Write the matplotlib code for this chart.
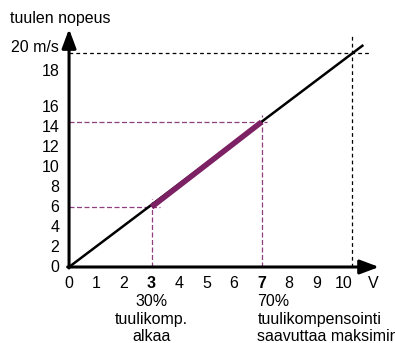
import matplotlib
matplotlib.use("Agg")
import matplotlib.pyplot as plt

plt.rcParams['font.family'] = ['Liberation Sans', 'DejaVu Sans']

# jännite (V) ja tuulen nopeus
v_line = [0, 10.7]
wind_line = [0, 22.2]

v_comp = [3, 7]          # tuulikompensoinnin alku ja maksimi
wind_comp = [6, 14.5]

v_max = 10.3
wind_max = 21.4

x_ticks = [0, 1, 2, 3, 4, 5, 6, 7, 8, 9, 10]
y_ticks = [0, 2, 4, 6, 8, 10, 12, 14, 16, 19.6, 21.9]
y_labels = ['0', '2', '4', '6', '8', '10', '12', '14', '16', '18', '20 m/s']

purple = '#7d2165'
purple_light = '#8e3d7e'
fs = 11.5

fig = plt.figure(figsize=(3.95, 3.43), dpi=100)
ax = fig.add_axes([0, 0, 1, 1])
ax.set_xlim(-2.51, 11.85)
ax.set_ylim(-7.6, 26.7)
ax.axis('off')

# apuviivat
ax.plot([0, v_comp[0] + 0.3], [wind_comp[0]] * 2, color=purple_light, lw=0.9, ls=(0, (4, 2)))
ax.plot([v_comp[0]] * 2, [0, wind_comp[0] + 0.8], color=purple_light, lw=0.9, ls=(0, (4, 2)))
ax.plot([0, v_comp[1] + 0.2], [wind_comp[1]] * 2, color=purple_light, lw=0.9, ls=(0, (4, 2)))
ax.plot([v_comp[1]] * 2, [0, wind_comp[1] + 0.7], color=purple_light, lw=0.9, ls=(0, (4, 2)))
ax.plot([0, v_max + 0.65], [wind_max] * 2, color='black', lw=0.9, ls=(0, (3, 2.5)))
ax.plot([v_max] * 2, [0, wind_max + 1.8], color='black', lw=0.9, ls=(0, (3, 2.5)))

ax.plot(v_line, wind_line, color='black', lw=1.8, solid_capstyle='butt')
ax.plot(v_comp, wind_comp, color=purple, lw=4, solid_capstyle='butt')

# akselit nuolineen
arrow = dict(arrowstyle='-|>,head_length=1.15,head_width=0.43', lw=2.2,
             color='black', shrinkA=0, shrinkB=0, mutation_scale=10)
ax.annotate('', xy=(11.27, 0), xytext=(-0.05, 0), arrowprops=arrow)
ax.annotate('', xy=(0, 23.8), xytext=(0, -0.1), arrowprops=arrow)

for x in x_ticks:
    bold = x in v_comp
    ax.text(x, -1.7, str(x), ha='center', va='center', fontsize=fs,
            fontweight='bold' if bold else 'normal')
ax.text(11.05, -1.7, 'V', ha='center', va='center', fontsize=fs)

for y, lab in zip(y_ticks, y_labels):
    ax.text(-0.36, y, lab, ha='right', va='center', fontsize=fs)

ax.text(-2.15, 24.9, 'tuulen nopeus', ha='left', va='center', fontsize=fs)

ax.text(3, -2.75, '30%\ntuulikomp.\nalkaa', ha='center', va='top', fontsize=fs,
        linespacing=1.18)
ax.text(6.85, -2.75, '70%\ntuulikompensointi\nsaavuttaa maksimin', ha='left',
        va='top', fontsize=fs, linespacing=1.18)

fig.savefig('out.png', dpi=100)
